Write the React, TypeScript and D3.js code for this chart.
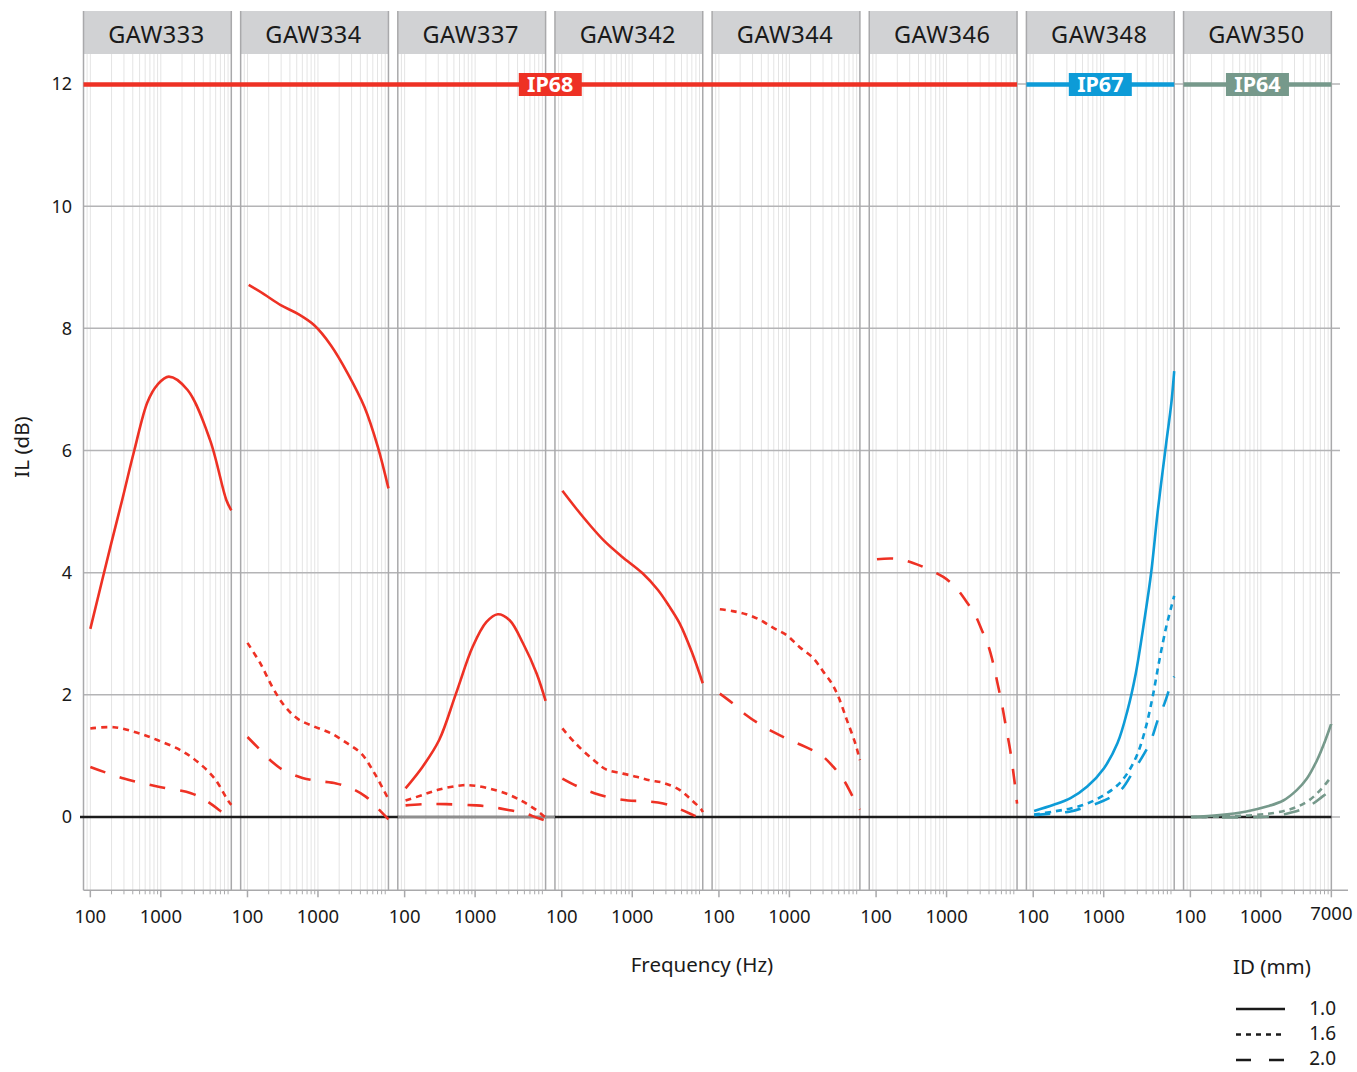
import React from 'react';
import * as d3 from 'd3';

// ---------- data ----------
const panelNames = ['GAW333', 'GAW334', 'GAW337', 'GAW342', 'GAW344', 'GAW346', 'GAW348', 'GAW350'];
const ipGroups = [
  { label: 'IP68', from: 0, to: 5, color: '#ee3124' },
  { label: 'IP67', from: 6, to: 6, color: '#0d9bd7' },
  { label: 'IP64', from: 7, to: 7, color: '#76998b' },
];
const yTicks = [0, 2, 4, 6, 8, 10, 12];
const xMajorTicks = [100, 1000];
const xMinorTicks = [90, 200, 300, 400, 500, 600, 700, 800, 900, 2000, 3000, 4000, 5000, 6000, 7000, 8000, 9000];
const lastPanelEndLabel = '7000';
const idLabels = ['1.0', '1.6', '2.0'];

type Pt = [number, number];
const gaw333_10: Pt[] = [[100, 3.08], [200, 4.5], [283, 5.19], [420, 6.0], [650, 6.8], [900, 7.08], [1300, 7.21], [2400, 6.99], [5000, 6.17], [8500, 5.19], [10000, 5.02]];
const gaw333_16: Pt[] = [[100, 1.45], [215, 1.47], [464, 1.38], [893, 1.26], [1930, 1.09], [3350, 0.9], [5800, 0.63], [8950, 0.27], [10000, 0.2]];
const gaw333_20: Pt[] = [[100, 0.82], [299, 0.63], [893, 0.5], [2680, 0.39], [4150, 0.285], [6800, 0.11], [10000, -0.05]];

const gaw334_10: Pt[] = [[104, 8.71], [171, 8.56], [296, 8.38], [512, 8.24], [886, 8.05], [1530, 7.72], [2650, 7.26], [4580, 6.71], [7070, 6.06], [10000, 5.38]];
const gaw334_16: Pt[] = [[100, 2.85], [153, 2.51], [225, 2.13], [330, 1.83], [512, 1.61], [886, 1.48], [1530, 1.37], [2650, 1.2], [4110, 1.04], [6380, 0.71], [9900, 0.3]];
const gaw334_20: Pt[] = [[100, 1.31], [145, 1.12], [225, 0.9], [330, 0.76], [604, 0.64], [990, 0.59], [1810, 0.55], [2960, 0.47], [4820, 0.33], [7070, 0.14], [10000, -0.04]];

const gaw337_10: Pt[] = [[103, 0.47], [179, 0.82], [309, 1.26], [535, 2.02], [926, 2.79], [1440, 3.19], [2100, 3.32], [3090, 3.22], [4800, 2.84], [7460, 2.35], [10000, 1.9]];
const gaw337_16: Pt[] = [[103, 0.27], [179, 0.36], [309, 0.45], [667, 0.52], [1030, 0.51], [1790, 0.45], [3090, 0.36], [4800, 0.25], [7460, 0.11], [9800, 0.0]];
const gaw337_20: Pt[] = [[103, 0.19], [179, 0.21], [385, 0.21], [1030, 0.19], [1600, 0.17], [3090, 0.11], [4800, 0.07], [7460, -0.01], [10000, -0.06]];

const gaw342_10: Pt[] = [[102, 5.34], [160, 5.05], [250, 4.78], [400, 4.52], [700, 4.27], [1400, 3.99], [2300, 3.72], [3300, 3.46], [4700, 3.17], [7000, 2.7], [10000, 2.19]];
const gaw342_16: Pt[] = [[102, 1.45], [158, 1.2], [306, 0.9], [425, 0.78], [737, 0.71], [1140, 0.66], [1770, 0.6], [2750, 0.56], [4750, 0.44], [6600, 0.3], [9600, 0.12], [10000, 0.08]];
const gaw342_20: Pt[] = [[102, 0.63], [168, 0.5], [290, 0.39], [474, 0.32], [870, 0.27], [1420, 0.26], [2750, 0.22], [4240, 0.15], [7360, 0.03], [10000, -0.04]];

const gaw344_16: Pt[] = [[103, 3.4], [157, 3.37], [243, 3.32], [377, 3.23], [584, 3.1], [906, 2.98], [1400, 2.78], [2180, 2.6], [3020, 2.38], [3980, 2.19], [4950, 1.97], [6520, 1.59], [8580, 1.21], [10000, 0.93]];
const gaw344_20: Pt[] = [[103, 2.02], [157, 1.86], [243, 1.67], [377, 1.52], [617, 1.38], [1010, 1.26], [1750, 1.14], [2850, 1.01], [4210, 0.82], [5860, 0.61], [7700, 0.36], [10000, 0.12]];

const gaw346_20: Pt[] = [[103, 4.22], [183, 4.23], [334, 4.16], [518, 4.07], [898, 3.93], [1320, 3.77], [1930, 3.52], [2540, 3.31], [3160, 3.06], [3940, 2.79], [4640, 2.49], [5280, 2.19], [6070, 1.86], [6950, 1.48], [8000, 1.09], [9140, 0.61], [10000, 0.22]];

const gaw348_10: Pt[] = [[103, 0.1], [195, 0.2], [338, 0.31], [584, 0.5], [1010, 0.8], [1570, 1.21], [2180, 1.75], [2850, 2.35], [3770, 3.22], [4700, 3.99], [5860, 5.02], [7700, 6.12], [9100, 6.77], [10000, 7.3]];
const gaw348_16: Pt[] = [[103, 0.04], [195, 0.09], [338, 0.14], [584, 0.22], [1010, 0.36], [1570, 0.52], [2180, 0.72], [3030, 1.04], [3980, 1.48], [4950, 1.97], [6170, 2.57], [7700, 3.11], [9100, 3.44], [10000, 3.62]];
const gaw348_20: Pt[] = [[103, 0.03], [195, 0.06], [338, 0.09], [584, 0.17], [1010, 0.27], [1750, 0.44], [2700, 0.77], [3770, 1.04], [4700, 1.26], [5860, 1.59], [7290, 1.86], [9100, 2.19], [10000, 2.3]];

const gaw350_10: Pt[] = [[102, 0.0], [259, 0.03], [625, 0.09], [1210, 0.17], [2080, 0.27], [3230, 0.44], [4500, 0.63], [6260, 0.93], [8240, 1.26], [10000, 1.53]];
const gaw350_16: Pt[] = [[102, 0.0], [775, 0.03], [2330, 0.11], [4500, 0.25], [6980, 0.44], [10000, 0.66]];
const gaw350_20: Pt[] = [[102, 0.0], [1340, 0.01], [2880, 0.08], [5000, 0.19], [7370, 0.33], [10000, 0.44]];

const panelSeries: (Pt[] | null)[][] = [
  [gaw333_10, gaw333_16, gaw333_20],
  [gaw334_10, gaw334_16, gaw334_20],
  [gaw337_10, gaw337_16, gaw337_20],
  [gaw342_10, gaw342_16, gaw342_20],
  [null, gaw344_16, gaw344_20],
  [null, null, gaw346_20],
  [gaw348_10, gaw348_16, gaw348_20],
  [gaw350_10, gaw350_16, gaw350_20],
];

// ---------- layout / style ----------
const W = 1357;
const H = 1072;
const FONT = '"Noto Sans", "DejaVu Sans", sans-serif';
const PANEL_LEFT0 = 83.5;
const PITCH = 157.15;
const PANEL_W = 147.8;
const HEADER_TOP = 11;
const HEADER_BOTTOM = 54;
const PLOT_BOTTOM = 890.3;
const GRID_RIGHT = 1340;
const AXIS_RIGHT = 1348;
const dashes = ['none', '6,5', '16,15'];

const y = d3.scaleLinear().domain([-1.2, 12]).range([PLOT_BOTTOM, 84]);

function panelLeft(i: number) {
  return PANEL_LEFT0 + PITCH * i;
}
function xScale(i: number) {
  return d3.scaleLog().domain([80, 10000]).range([panelLeft(i), panelLeft(i) + PANEL_W]);
}
function panelColor(i: number) {
  const g = ipGroups.find((g) => i >= g.from && i <= g.to);
  return g ? g.color : '#000';
}

export default function App() {
  const lastX = panelLeft(panelNames.length - 1) + PANEL_W;
  return (
    <svg
      width={W}
      height={H}
      viewBox={`0 0 ${W} ${H}`}
      style={{ position: 'absolute', left: 0, top: 0, display: 'block', background: '#fff' }}
      fontFamily={FONT}
    >
      {/* headers */}
      {panelNames.map((name, i) => (
        <g key={'h' + i}>
          <rect x={panelLeft(i)} y={HEADER_TOP} width={PANEL_W} height={HEADER_BOTTOM - HEADER_TOP} fill="#d1d2d4" />
          <text
            x={panelLeft(i) + PANEL_W / 2 - 1}
            y={35}
            dy="0.36em"
            textAnchor="middle"
            fontSize={23.5}
            fill="#1a1a1a"
            letterSpacing={0.5}
          >
            {name}
          </text>
        </g>
      ))}

      {/* vertical minor grid */}
      {panelNames.map((_, i) => {
        const xs = xScale(i);
        return (
          <g key={'vg' + i}>
            {[...xMinorTicks, ...xMajorTicks].map((v) => (
              <line key={v} x1={xs(v)} x2={xs(v)} y1={HEADER_BOTTOM} y2={PLOT_BOTTOM} stroke="#e4e4e4" strokeWidth={1} />
            ))}
          </g>
        );
      })}

      {/* horizontal grid */}
      {yTicks.map((t) => (
        <line key={'hg' + t} x1={PANEL_LEFT0} x2={GRID_RIGHT} y1={y(t)} y2={y(t)} stroke="#b4b4b6" strokeWidth={1.5} />
      ))}

      {/* panel borders */}
      {panelNames.map((_, i) => (
        <g key={'b' + i}>
          <line x1={panelLeft(i)} x2={panelLeft(i)} y1={HEADER_TOP} y2={PLOT_BOTTOM} stroke="#a9a9ab" strokeWidth={1.5} />
          <line x1={panelLeft(i) + PANEL_W} x2={panelLeft(i) + PANEL_W} y1={HEADER_TOP} y2={PLOT_BOTTOM} stroke="#a9a9ab" strokeWidth={1.5} />
        </g>
      ))}

      {/* bottom axis line and ticks */}
      <line x1={PANEL_LEFT0} x2={AXIS_RIGHT} y1={PLOT_BOTTOM} y2={PLOT_BOTTOM} stroke="#a9a9ab" strokeWidth={1.5} />
      {panelNames.map((_, i) => {
        const xs = xScale(i);
        const isLast = i === panelNames.length - 1;
        return (
          <g key={'xt' + i}>
            {xMinorTicks.filter((v) => v > 100).map((v) => (
              <line key={v} x1={xs(v)} x2={xs(v)} y1={PLOT_BOTTOM} y2={PLOT_BOTTOM + 4} stroke="#a9a9ab" strokeWidth={1} />
            ))}
            {xMajorTicks.map((v) => (
              <g key={'M' + v}>
                <line x1={xs(v)} x2={xs(v)} y1={PLOT_BOTTOM} y2={PLOT_BOTTOM + 7} stroke="#a9a9ab" strokeWidth={1.5} />
                <text x={xs(v)} y={916} dy="0.36em" textAnchor="middle" fontSize={18.5} fill="#1a1a1a">
                  {String(v)}
                </text>
              </g>
            ))}
            {isLast && (
              <g>
                <line x1={xs(10000)} x2={xs(10000)} y1={PLOT_BOTTOM} y2={PLOT_BOTTOM + 7} stroke="#a9a9ab" strokeWidth={1.5} />
                <text x={xs(10000)} y={913} dy="0.36em" textAnchor="middle" fontSize={18.5} fill="#1a1a1a">
                  {lastPanelEndLabel}
                </text>
              </g>
            )}
          </g>
        );
      })}

      {/* zero line */}
      <line x1={80} x2={lastX} y1={y(0)} y2={y(0)} stroke="#1c1c1c" strokeWidth={2.5} />
      <line x1={panelLeft(2)} x2={panelLeft(3)} y1={y(0)} y2={y(0)} stroke="#8f8f8f" strokeWidth={2} />

      {/* IP lines */}
      {ipGroups.map((g) => {
        const x1 = panelLeft(g.from);
        const x2 = panelLeft(g.to) + PANEL_W;
        const cx = (x1 + x2) / 2;
        return (
          <g key={g.label}>
            <line x1={x1} x2={x2} y1={y(12) + 0.5} y2={y(12) + 0.5} stroke={g.color} strokeWidth={4.5} />
            <rect x={cx - 31.5} y={y(12) - 11} width={63} height={23} fill={g.color} />
            <text x={cx} y={y(12) + 0.5} dy="0.36em" textAnchor="middle" fontSize={21.5} fontWeight={700} fill="#fff">
              {g.label}
            </text>
          </g>
        );
      })}

      {/* curves */}
      {panelSeries.map((series, i) => {
        const xs = xScale(i);
        const line = d3
          .line<Pt>()
          .x((d) => xs(d[0]))
          .y((d) => y(d[1]))
          .curve(d3.curveCatmullRom.alpha(0.5));
        return (
          <g key={'c' + i}>
            {series.map((s, k) =>
              s ? (
                <path
                  key={k}
                  d={line(s) || ''}
                  fill="none"
                  stroke={panelColor(i)}
                  strokeWidth={2.6}
                  strokeDasharray={dashes[k]}
                />
              ) : null
            )}
          </g>
        );
      })}

      {/* y ticks */}
      {yTicks.map((t) => (
        <text key={'yt' + t} x={72} y={y(t)} dy="0.36em" textAnchor="end" fontSize={18} fill="#1a1a1a">
          {String(t)}
        </text>
      ))}

      {/* axis titles */}
      <text transform={`translate(22,${447}) rotate(-90)`} textAnchor="middle" dy="0.36em" fontSize={20.5} fill="#1a1a1a">
        IL (dB)
      </text>
      <text x={702} y={965} dy="0.36em" textAnchor="middle" fontSize={20.5} fill="#1a1a1a">
        Frequency (Hz)
      </text>

      {/* legend */}
      <text x={1233} y={967} dy="0.36em" fontSize={20.5} fill="#1a1a1a">
        ID (mm)
      </text>
      {idLabels.map((lab, k) => (
        <g key={'lg' + k}>
          <line
            x1={1236}
            x2={1285}
            y1={1009 + k * 25.5}
            y2={1009 + k * 25.5}
            stroke="#1a1a1a"
            strokeWidth={2.6}
            strokeDasharray={k === 0 ? 'none' : k === 1 ? '5,5' : '15,18'}
          />
          <text x={1336} y={1008 + k * 25} dy="0.36em" textAnchor="end" fontSize={19} fill="#1a1a1a">
            {lab}
          </text>
        </g>
      ))}
    </svg>
  );
}
